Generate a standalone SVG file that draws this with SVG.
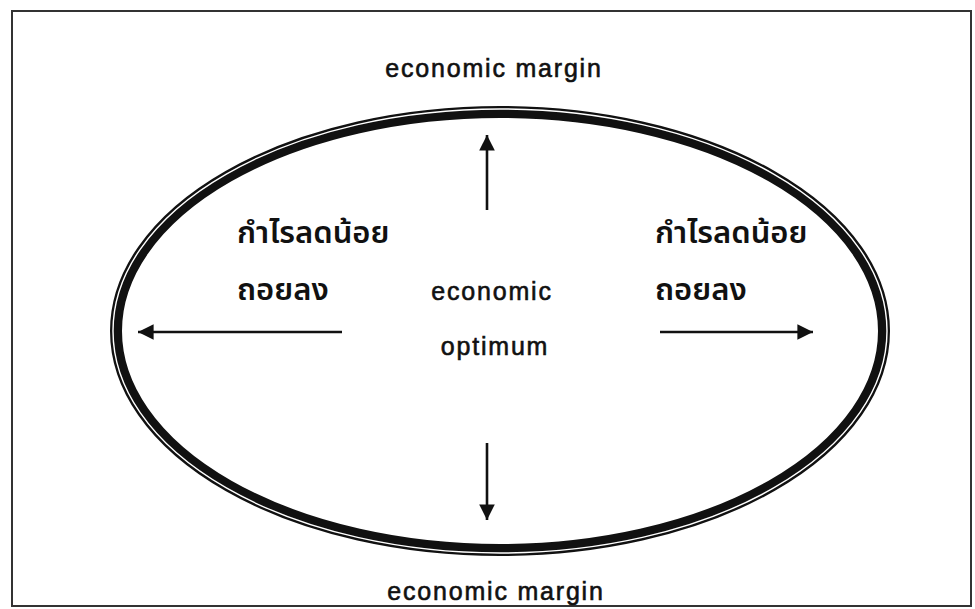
<svg xmlns="http://www.w3.org/2000/svg" width="975" height="609" viewBox="0 0 975 609">
<style>
.lbl{font-family:"Liberation Sans",Arial,sans-serif;font-size:25px;letter-spacing:1.8px;fill:#111;stroke:#111;stroke-width:0.6;text-anchor:middle}
.th{font-family:"Noto Sans Thai","Liberation Sans","DejaVu Sans",sans-serif;font-size:31px;font-weight:600;fill:#111}
.arr{stroke:#111;stroke-width:2.6;fill:none}
</style>
<defs>
<marker id="ah" viewBox="0 0 10 10" refX="10" refY="5" markerWidth="7" markerHeight="6" markerUnits="strokeWidth" orient="auto">
<path d="M0,0 L10,5 L0,10 Z" fill="#111"/>
</marker>
</defs>
<rect width="975" height="609" fill="#fff"/>
<rect x="12" y="11" width="959" height="595" fill="none" stroke="#333" stroke-width="2"/>
<g id="boundary">
<ellipse cx="500" cy="331" rx="384" ry="219" fill="none" stroke="#111" stroke-width="12"/>
<ellipse cx="500" cy="331" rx="387" ry="222" fill="none" stroke="#fff" stroke-width="1.4"/>
</g>
<g id="margin-top"><text class="lbl" x="494" y="77">economic margin</text></g>
<g id="margin-bottom"><text class="lbl" x="496" y="600">economic margin</text></g>
<g id="optimum">
<text class="lbl" x="492" y="300">economic</text>
<text class="lbl" x="495" y="355">optimum</text>
</g>
<g id="left-label">
<text class="th" x="237" y="243">กำไรลดน้อย</text>
<text class="th" x="237" y="300">ถอยลง</text>
</g>
<g id="right-label">
<text class="th" x="655" y="243">กำไรลดน้อย</text>
<text class="th" x="655" y="300">ถอยลง</text>
</g>
<g id="connectors">
<line class="arr" x1="487" y1="210" x2="487" y2="135" marker-end="url(#ah)"/>
<line class="arr" x1="487" y1="443" x2="487" y2="520" marker-end="url(#ah)"/>
<line class="arr" x1="342" y1="332" x2="138" y2="332" marker-end="url(#ah)"/>
<line class="arr" x1="660" y1="332" x2="813" y2="332" marker-end="url(#ah)"/>
</g>
</svg>
